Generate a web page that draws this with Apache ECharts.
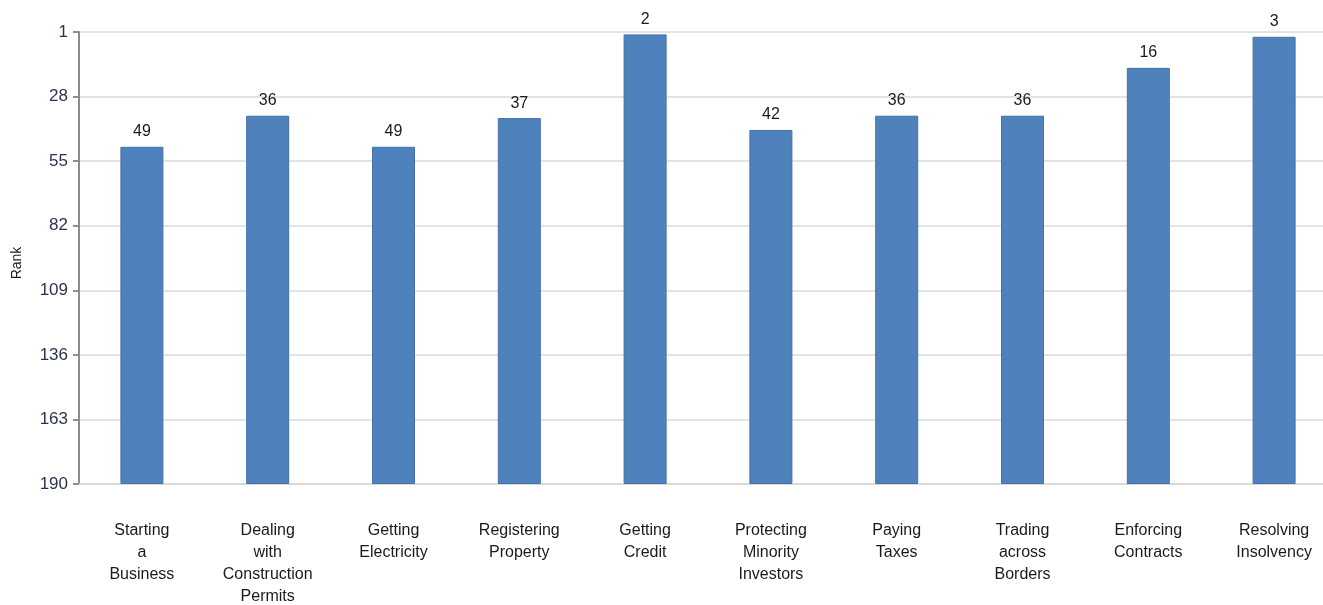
<!DOCTYPE html>
<html>
<head>
<meta charset="utf-8">
<script src="https://cdn.jsdelivr.net/npm/echarts@6/dist/echarts.min.js"></script>
<style>
  html, body { margin: 0; padding: 0; background: #fff; }
  #chart { width: 1323px; height: 605px; }
</style>
</head>
<body>
<div id="chart"></div>
<script>
// rank per topic (lower is better)
const categories = [
  "Starting\na\nBusiness",
  "Dealing\nwith\nConstruction\nPermits",
  "Getting\nElectricity",
  "Registering\nProperty",
  "Getting\nCredit",
  "Protecting\nMinority\nInvestors",
  "Paying\nTaxes",
  "Trading\nacross\nBorders",
  "Enforcing\nContracts",
  "Resolving\nInsolvency"
];
const ranks = [49, 36, 49, 37, 2, 42, 36, 36, 16, 3];
const rankMin = 1;
const rankMax = 190;
const rankStep = 27;

const font = "'Liberation Sans Narrow', 'Liberation Sans', Arial, sans-serif";

const chart = echarts.init(document.getElementById("chart"));

// bars hang from the bottom (worst rank) up to the rank, so stack an invisible
// piece from 0 to rank and the visible piece from rank to the axis max
const option = {
  animation: false,
  grid: { left: 79, right: -14, top: 32, bottom: 121, containLabel: false, outerBoundsMode: "none" },
  xAxis: {
    type: "category",
    data: categories,
    axisLine: { onZero: false, lineStyle: { color: "#d9d9d9", width: 2 } },
    axisTick: { show: false },
    axisLabel: {
      margin: 36,
      fontFamily: font,
      fontSize: 16,
      lineHeight: 22,
      color: "#1a1a1a",
      interval: 0
    }
  },
  yAxis: {
    type: "value",
    inverse: true,
    min: rankMin,
    max: rankMax,
    interval: rankStep,
    name: "Rank",
    nameLocation: "middle",
    nameGap: 55,
    nameTextStyle: { fontFamily: "Liberation Sans, Arial, sans-serif", fontSize: 14, color: "#1a1a1a", padding: [0, 10, 0, 0] },
    axisLine: { show: true, lineStyle: { color: "#8c8c8c", width: 2 } },
    axisTick: { show: true, length: 6, lineStyle: { color: "#8c8c8c", width: 2 } },
    axisLabel: { margin: 11, fontFamily: font, fontSize: 17, color: "#2b3350" },
    splitLine: { lineStyle: { color: "#e3e3e3", width: 2 } }
  },
  series: [
    {
      type: "bar",
      stack: "rank",
      data: ranks,
      barWidth: 43,
      itemStyle: { color: "transparent" },
      silent: true
    },
    {
      type: "bar",
      stack: "rank",
      data: ranks.map(r => rankMax - r),
      barWidth: 43,
      itemStyle: { color: "#4f81bd", borderColor: "#4272a8", borderWidth: 1 },
      label: {
        show: true,
        position: "top",
        distance: 7,
        fontFamily: font,
        fontSize: 16,
        color: "#1a1a1a",
        formatter: p => String(ranks[p.dataIndex])
      }
    }
  ]
};

chart.setOption(option);
</script>
</body>
</html>
